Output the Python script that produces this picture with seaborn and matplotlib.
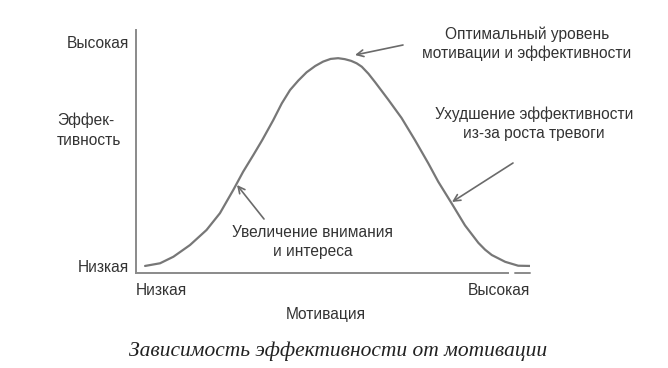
import numpy as np
import pandas as pd
import matplotlib
matplotlib.use("Agg")
import matplotlib.pyplot as plt
import seaborn as sns

# Data (motivation 0-100, performance 0-100)
motivation = [2.3, 6.1, 9.5, 13.7, 17.9, 21.3, 24.7, 27.2, 29.8, 32.0, 34.8, 37.0,
              39.1, 41.2, 43.3, 45.5, 47.5, 49.4, 51.3, 53.0, 54.6, 56.0, 57.3,
              59.0, 60.7, 64.0, 67.4, 70.8, 74.2, 76.7, 80.1, 83.5, 86.9, 88.6,
              90.3, 93.7, 97.0, 100.0]
performance = [2.9, 4.0, 6.7, 11.5, 17.7, 24.6, 34.2, 41.7, 48.6, 54.6, 62.8, 69.8,
               75.3, 79.2, 82.6, 85.2, 87.0, 88.1, 88.4, 88.0, 87.3, 86.3, 84.9,
               82.0, 78.5, 71.4, 63.8, 54.7, 45.1, 37.6, 28.7, 19.6, 12.4, 9.6,
               7.4, 4.6, 3.0, 2.9]
x_tick_labels = ["Низкая", "Высокая"]
y_tick_labels = ["Низкая", "Высокая"]
y_label = "Эффек-\nтивность"
x_label = "Мотивация"
caption = "Зависимость эффективности от мотивации"
ann_peak = "Оптимальный уровень\nмотивации и эффективности"
ann_right = "Ухудшение эффективности\nиз-за роста тревоги"
ann_left = "Увеличение внимания\nи интереса"

df = pd.DataFrame({"motivation": motivation, "performance": performance})

sns.set_theme(style="white")
plt.rcParams["font.family"] = ["Liberation Sans", "DejaVu Sans"]

W, H = 668, 368
fig = plt.figure(figsize=(W / 100, H / 100), dpi=100)
left, right, bottom, top = 136, 530, 273, 30
ax = fig.add_axes([left / W, (H - bottom) / H, (right - left) / W, (bottom - top) / H])

line_col = "#777777"
text_col = "#333333"
fs = 11.2

sns.lineplot(data=df, x="motivation", y="performance", ax=ax, color=line_col,
             linewidth=1.6, sort=False)
for ln in ax.get_lines():
    ln.set_solid_joinstyle("round")
    ln.set_solid_capstyle("round")

ax.set_xlim(0, 100)
ax.set_ylim(0, 100)
ax.set_xlabel("")
ax.set_ylabel("")
for s in ["top", "right"]:
    ax.spines[s].set_visible(False)
for s in ["left", "bottom"]:
    ax.spines[s].set_color("#8a8a8a")
    ax.spines[s].set_linewidth(1.4)
ax.spines["bottom"].set_bounds(0, 94.5)
ax.axhline(0, xmin=0.962, xmax=1.0, color="#8a8a8a", linewidth=1.4, clip_on=False)

# y tick labels
ax.set_yticks([2.9, 95])
ax.set_yticklabels(y_tick_labels, fontsize=fs, color=text_col)
ax.tick_params(axis="y", length=0, pad=5)
# x tick labels
ax.set_xticks([0, 100])
xl = ax.set_xticklabels(x_tick_labels, fontsize=fs, color=text_col)
xl[0].set_ha("left")
xl[1].set_ha("right")
ax.tick_params(axis="x", length=0, pad=7)

fig.text(57 / W, 1 - 130 / H, y_label, fontsize=fs, color=text_col,
         ha="left", va="center", linespacing=1.45)
fig.text(326 / W, 1 - 314 / H, x_label, fontsize=fs, color=text_col,
         ha="center", va="center")
fig.text(338 / W, 1 - 351 / H, caption, fontsize=15.5, color="#222222",
         ha="center", va="center", style="italic",
         family=["Liberation Serif", "DejaVu Serif"])

def px2data(px, py):
    return ((px - left) / (right - left) * 100, (bottom - py) / (bottom - top) * 100)

arrow = dict(arrowstyle="->", color="#6a6a6a", lw=1.2, shrinkA=0, shrinkB=0,
             mutation_scale=12)
ax.annotate("", xy=px2data(355, 55), xytext=px2data(403, 45), arrowprops=arrow,
            annotation_clip=False)
ax.annotate("", xy=px2data(452, 202), xytext=px2data(513, 163), arrowprops=arrow,
            annotation_clip=False)
ax.annotate("", xy=px2data(237, 185), xytext=px2data(264, 219), arrowprops=arrow,
            annotation_clip=False)

fig.text(527 / W, 1 - 44 / H, ann_peak, fontsize=fs, color=text_col,
         ha="center", va="center", linespacing=1.3)
fig.text(534 / W, 1 - 124 / H, ann_right, fontsize=fs, color=text_col,
         ha="center", va="center", linespacing=1.3)
fig.text(313 / W, 1 - 242 / H, ann_left, fontsize=fs, color=text_col,
         ha="center", va="center", linespacing=1.3)

fig.savefig("out.png", dpi=100, facecolor="white")
